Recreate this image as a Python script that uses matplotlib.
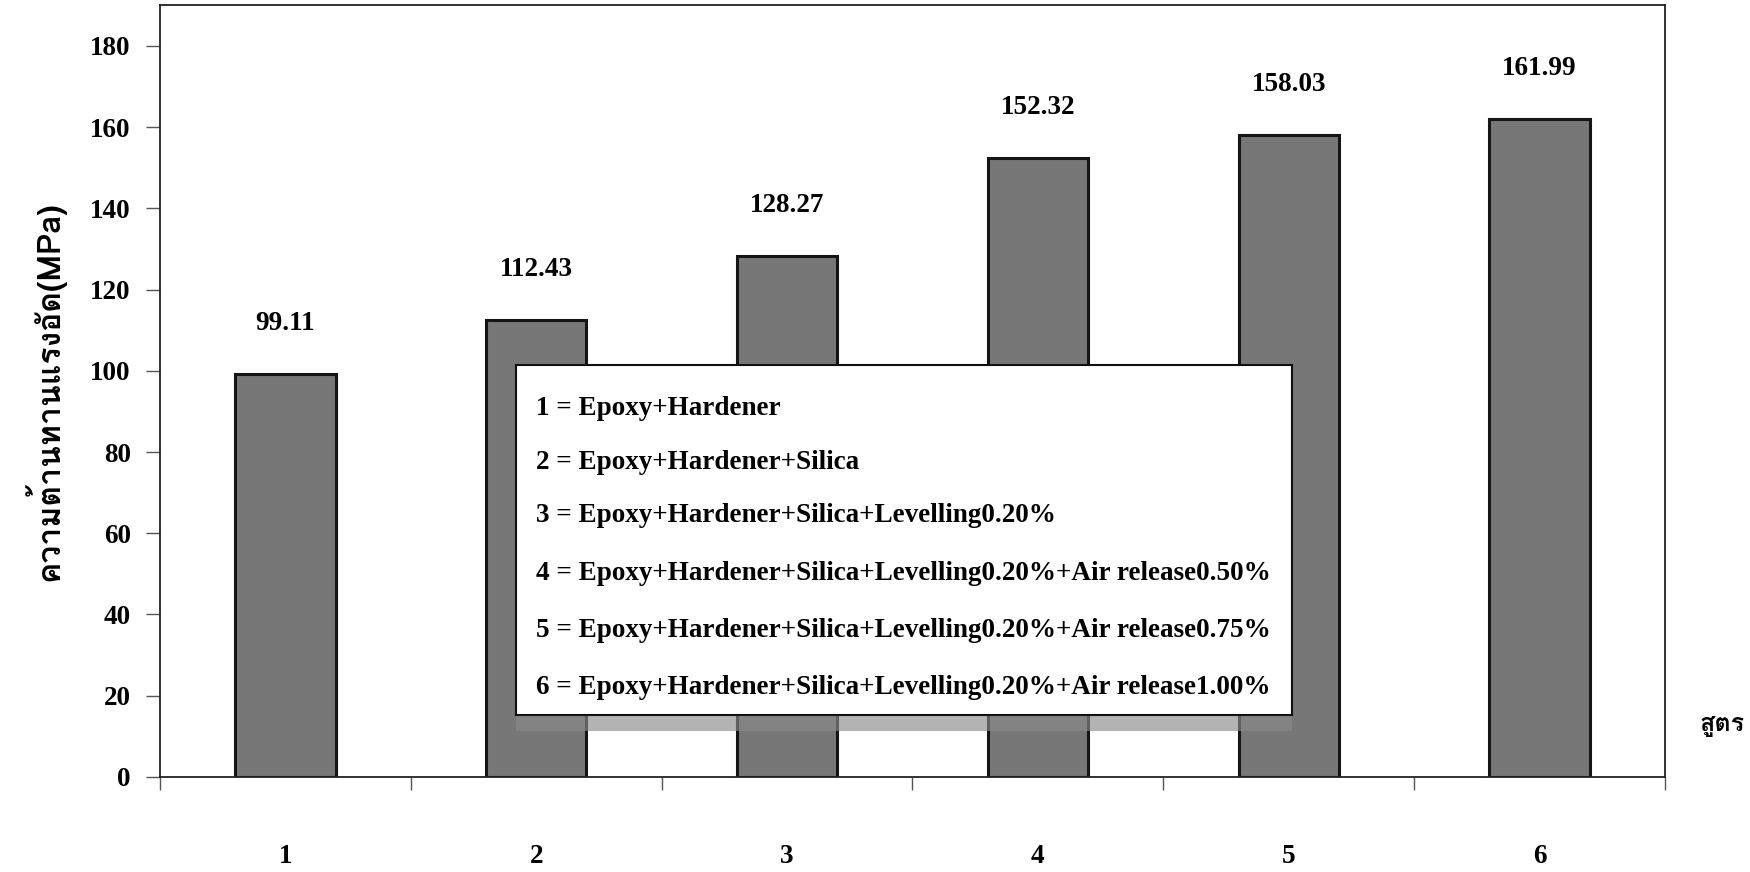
import matplotlib
matplotlib.use("Agg")
import matplotlib.pyplot as plt
from matplotlib import font_manager
from matplotlib.ft2font import FT2Font
from matplotlib.patches import Rectangle

formulas = ["1", "2", "3", "4", "5", "6"]
strength = [99.11, 112.43, 128.27, 152.32, 158.03, 161.99]
value_labels = ["99.11", "112.43", "128.27", "152.32", "158.03", "161.99"]
recipes = [
    "1 = Epoxy+Hardener",
    "2 = Epoxy+Hardener+Silica",
    "3 = Epoxy+Hardener+Silica+Levelling0.20%",
    "4 = Epoxy+Hardener+Silica+Levelling0.20%+Air release0.50%",
    "5 = Epoxy+Hardener+Silica+Levelling0.20%+Air release0.75%",
    "6 = Epoxy+Hardener+Silica+Levelling0.20%+Air release1.00%",
]
y_ticks = [0, 20, 40, 60, 80, 100, 120, 140, 160, 180]


def find_thai_font():
    # pick the first installed font that actually covers Thai script
    found = []
    for f in font_manager.fontManager.ttflist:
        try:
            if ord("ก") in FT2Font(f.fname).get_charmap():
                found.append(f)
        except Exception:
            pass
    if not found:
        return "DejaVu Sans"
    bold = [f for f in found if f.weight in ("bold", 700)]
    return (bold or found)[0].name


thai = find_thai_font()
serif = "Liberation Serif"
FS = 19.5

fig = plt.figure(figsize=(17.5, 8.72), dpi=100)
ax = fig.add_axes([0.0914, 0.109, 0.86, 0.885])

x = list(range(len(formulas)))
ax.bar(x, strength, width=0.4, color="#777777", edgecolor="#151515",
       linewidth=2.2, zorder=2)

for xi, v, lab in zip(x, strength, value_labels):
    ax.text(xi, v + 12.5, lab, ha="center", va="center", fontsize=FS,
            fontweight="bold", family=serif)

ax.set_xlim(-0.5, len(formulas) - 0.5)
ax.set_ylim(0, 190)
ax.set_yticks(y_ticks)
ax.set_yticklabels([str(t) for t in y_ticks], fontsize=FS,
                   fontweight="bold", family=serif)
ax.tick_params(axis="y", length=10, width=1, color="#555555", pad=11)

# category labels in the middle, tick marks on the boundaries
ax.set_xticks(x)
ax.set_xticklabels(formulas, fontsize=FS, fontweight="bold", family=serif)
ax.tick_params(axis="x", which="major", length=0, pad=48)
ax.set_xticks([i - 0.5 for i in range(len(formulas) + 1)], minor=True)
ax.tick_params(axis="x", which="minor", length=9.5, width=1, color="#555555")

for s in ax.spines.values():
    s.set_linewidth(1.3)
    s.set_color("#222222")

ax.set_ylabel("ความต้านทานแรงอัด(MPa)", fontsize=23, fontweight="bold",
              family=[thai, "DejaVu Sans"])
ax.yaxis.set_label_coords(-0.063, 0.5)
fig.text(0.997, 0.168, "สูตร", ha="right", va="center", fontsize=18,
         fontweight="bold", family=[thai, "DejaVu Sans"])

# legend box with a soft gray shadow underneath
bx0, by0, bw, bh = 0.2365, 0.080, 0.5155, 0.4535
ax.add_patch(Rectangle((bx0, by0 - 0.02), bw, bh, transform=ax.transAxes,
                       facecolor="#8a8a8a", alpha=0.65, edgecolor="none",
                       zorder=3))
ax.add_patch(Rectangle((bx0, by0), bw, bh, transform=ax.transAxes,
                       facecolor="white", edgecolor="#111111", linewidth=1.5,
                       zorder=4))
line_y = [0.3976, 0.3276, 0.2590, 0.1838, 0.1100, 0.0365]
for ty, txt in zip(line_y, recipes):
    ax.text(bx0 + 0.0135, by0 + ty, txt, transform=ax.transAxes,
            ha="left", va="center", fontsize=FS, fontweight="bold",
            family=serif, zorder=5)

fig.savefig("out.png", dpi=100)
